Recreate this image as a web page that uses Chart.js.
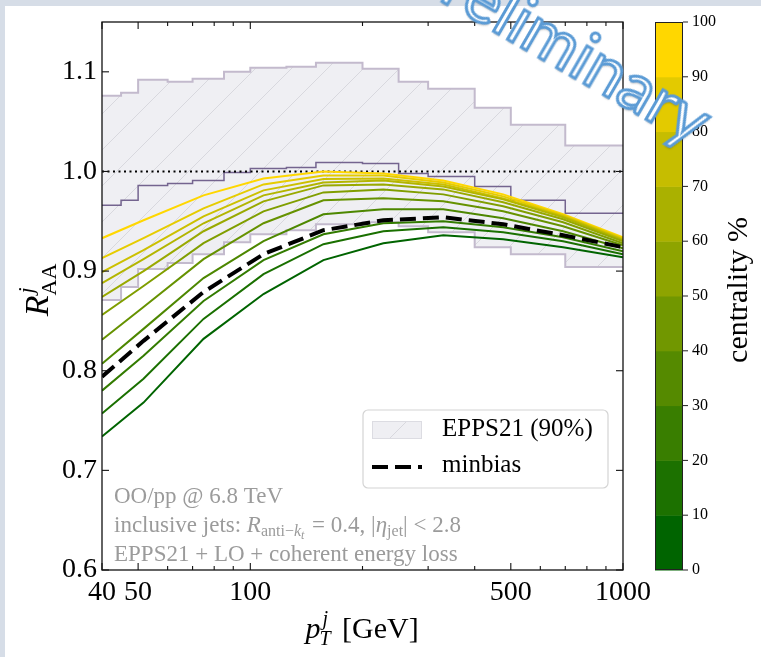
<!DOCTYPE html>
<html>
<head>
<meta charset="utf-8">
<script src="https://cdn.jsdelivr.net/npm/chart.js@4.4.1/dist/chart.umd.min.js"></script>
<style>
  html, body { margin: 0; padding: 0; background: #fff; }
  #wrap { position: relative; width: 761px; height: 657px; overflow: hidden; }
  #plot { display: block; }
  #wm {
    position: absolute; left: 433px; top: -73px;
    font-family: Lato, "Open Sans", sans-serif; font-size: 68px; line-height: 1;
    color: #fff; -webkit-text-stroke: 3px #5b9bd5;
    text-shadow: 1px 2px 2px rgba(0,0,0,0.25);
    transform: rotate(30deg); transform-origin: 0 0; white-space: nowrap;
  }
</style>
</head>
<body>
<div id="wrap">
  <canvas id="plot" width="761" height="657"></canvas>
  <div id="wm">Preliminary</div>
</div>
<script>
// ---- jet pT grid of the calculation (GeV) ----
const ptGrid = [40, 51.7, 74.9, 108.5, 157.1, 227.5, 329.4, 476.9, 690.6, 1000];

// ---- R_AA per centrality class (%) ----
const centralityPct = [0, 10, 20, 30, 40, 50, 60, 70, 80, 90, 100];
const raa_c0   = [0.734, 0.768, 0.832, 0.877, 0.911, 0.928, 0.936, 0.932, 0.924, 0.914];
const raa_c10  = [0.757, 0.792, 0.852, 0.897, 0.927, 0.940, 0.944, 0.939, 0.930, 0.917];
const raa_c20  = [0.780, 0.815, 0.870, 0.911, 0.937, 0.948, 0.950, 0.944, 0.934, 0.920];
const raa_c30  = [0.807, 0.842, 0.893, 0.930, 0.957, 0.962, 0.962, 0.953, 0.940, 0.923];
const raa_c40  = [0.831, 0.864, 0.912, 0.948, 0.971, 0.973, 0.970, 0.960, 0.945, 0.926];
const raa_c50  = [0.856, 0.885, 0.928, 0.960, 0.979, 0.982, 0.977, 0.965, 0.949, 0.928];
const raa_c60  = [0.874, 0.900, 0.940, 0.970, 0.986, 0.987, 0.982, 0.969, 0.952, 0.930];
const raa_c70  = [0.888, 0.912, 0.948, 0.976, 0.989, 0.991, 0.985, 0.972, 0.954, 0.931];
const raa_c80  = [0.899, 0.921, 0.955, 0.981, 0.9925, 0.993, 0.987, 0.973, 0.955, 0.932];
const raa_c90  = [0.913, 0.933, 0.963, 0.987, 0.996, 0.996, 0.989, 0.975, 0.956, 0.933];
const raa_c100 = [0.933, 0.951, 0.976, 0.993, 1.000, 0.998, 0.991, 0.977, 0.957, 0.934];
const raaByCentrality = [raa_c0, raa_c10, raa_c20, raa_c30, raa_c40, raa_c50,
                         raa_c60, raa_c70, raa_c80, raa_c90, raa_c100];
const raaMinbias = [0.794, 0.830, 0.879, 0.917, 0.941, 0.951, 0.954, 0.947, 0.936, 0.924];

// ---- EPPS21 nPDF uncertainty (90% CL), histogram in pT bins ----
const eppsEdges   = [40, 45, 50, 60, 70, 85, 100, 125, 150, 200, 250, 300, 400, 500, 700, 1000];
const eppsUpper   = [1.076, 1.079, 1.092, 1.090, 1.093, 1.100, 1.104, 1.105, 1.109, 1.103, 1.090, 1.083, 1.064, 1.047, 1.026];
const eppsCentral = [0.966, 0.971, 0.986, 0.988, 0.991, 0.999, 1.003, 1.004, 1.009, 1.008, 0.998, 0.995, 0.985, 0.971, 0.958];
const eppsLower   = [0.871, 0.884, 0.902, 0.908, 0.917, 0.929, 0.937, 0.941, 0.947, 0.949, 0.945, 0.939, 0.924, 0.917, 0.904];

// ---- axes ----
const xMajorTicks = [40, 50, 100, 500, 1000];
const xMinorTicks = [60, 70, 80, 90, 200, 300, 400, 600, 700, 800, 900];
const yTicks = [0.6, 0.7, 0.8, 0.9, 1.0, 1.1];
const cbarTicks = [0, 10, 20, 30, 40, 50, 60, 70, 80, 90, 100];
const cbarBands = [0, 10, 20, 30, 40, 50, 60, 70, 80, 90];

const SERIF = '"Liberation Serif", "DejaVu Serif", serif';
const DARKGREEN = [0, 100, 0], GOLD = [255, 215, 0];
function mix(t) {
  const c = DARKGREEN.map((v, i) => Math.round(v + (GOLD[i] - v) * t));
  return `rgb(${c[0]},${c[1]},${c[2]})`;
}

function makeHatch() {
  const s = 36, c = document.createElement('canvas');
  c.width = s; c.height = s;
  const g = c.getContext('2d');
  g.fillStyle = '#efeff3'; g.fillRect(0, 0, s, s);
  g.strokeStyle = '#d8d8de'; g.lineWidth = 1;
  g.beginPath();
  g.moveTo(-2, s + 2); g.lineTo(s + 2, -2);
  g.moveTo(-2, 2); g.lineTo(2, -2);
  g.moveTo(s - 2, s + 2); g.lineTo(s + 2, s - 2);
  g.stroke();
  return g.createPattern(c, 'repeat');
}
const hatch = makeHatch();

const stepData = vals => eppsEdges.map((x, i) => ({ x, y: vals[Math.min(i, vals.length - 1)] }));
const curveData = vals => ptGrid.map((x, i) => ({ x, y: vals[i] }));

const EDGE = '#c3bacd', MID = '#74648f';
const datasets = [
  { label: 'EPPS21 upper', data: stepData(eppsUpper), stepped: true, borderColor: EDGE, borderWidth: 2,
    backgroundColor: hatch, fill: { target: 1 }, order: 20 },
  { label: 'EPPS21 lower', data: stepData(eppsLower), stepped: true, borderColor: EDGE, borderWidth: 2,
    fill: false, order: 19 },
  { label: 'EPPS21 central', data: stepData(eppsCentral), stepped: true, borderColor: MID, borderWidth: 1.5,
    fill: false, order: 18 },
  { label: 'unity', data: [{ x: 40, y: 1 }, { x: 1000, y: 1 }], borderColor: '#000', borderWidth: 2,
    borderDash: [2, 3.5], fill: false, order: 17 }
];
centralityPct.forEach((c, i) => {
  datasets.push({ label: c + '%', data: curveData(raaByCentrality[i]), borderColor: mix(c / 100),
    borderWidth: 2, fill: false, order: 2 + i });
});
datasets.push({ label: 'minbias', data: curveData(raaMinbias), borderColor: '#000', borderWidth: 4,
  borderDash: [16, 7], fill: false, order: 0 });

// page background and white panel
const backdrop = {
  id: 'backdrop',
  beforeDraw(chart) {
    const { ctx, width, height } = chart;
    ctx.save();
    ctx.fillStyle = '#d6dde7'; ctx.fillRect(0, 0, width, height);
    ctx.fillStyle = '#ffffff'; ctx.fillRect(5, 6, width - 5, height - 6);
    ctx.restore();
  }
};

// frame and inward ticks on all four sides
const frameTicks = {
  id: 'frameTicks',
  afterDatasetsDraw(chart) {
    const { ctx, chartArea: a, scales: { x, y } } = chart;
    ctx.save();
    ctx.strokeStyle = '#111'; ctx.lineWidth = 1.3;
    ctx.strokeRect(a.left, a.top, a.right - a.left, a.bottom - a.top);
    ctx.lineWidth = 1.1;
    const seg = (x1, y1, x2, y2) => { ctx.beginPath(); ctx.moveTo(x1, y1); ctx.lineTo(x2, y2); ctx.stroke(); };
    xMajorTicks.forEach(v => { const p = x.getPixelForValue(v); seg(p, a.bottom, p, a.bottom - 7); seg(p, a.top, p, a.top + 7); });
    xMinorTicks.forEach(v => { const p = x.getPixelForValue(v); seg(p, a.bottom, p, a.bottom - 4); seg(p, a.top, p, a.top + 4); });
    yTicks.forEach(v => { const p = y.getPixelForValue(v); seg(a.left, p, a.left + 7, p); seg(a.right, p, a.right - 7, p); });
    ctx.restore();
  }
};

function runs(ctx, x, y, parts) {
  let cx = x;
  parts.forEach(p => {
    ctx.font = p.f;
    ctx.fillText(p.t, cx, y + (p.dy || 0));
    cx += ctx.measureText(p.t).width + (p.sp || 0);
  });
  return cx;
}

// annotations, axis titles, legend and colour bar
const decorations = {
  id: 'decorations',
  afterDraw(chart) {
    const { ctx, chartArea: a } = chart;
    ctx.save();
    ctx.textBaseline = 'alphabetic';
    ctx.textAlign = 'left';

    // text block
    ctx.fillStyle = '#9b9b9b';
    const n23 = `23px ${SERIF}`, i23 = `italic 23px ${SERIF}`, n16 = `16px ${SERIF}`, i12 = `italic 12px ${SERIF}`;
    runs(ctx, 114, 503, [{ t: 'OO/pp @ 6.8 TeV', f: n23 }]);
    runs(ctx, 114, 532, [
      { t: 'inclusive jets: ', f: n23 }, { t: 'R', f: i23 }, { t: 'anti\u2212', f: n16, dy: 4 },
      { t: 'k', f: `italic 16px ${SERIF}`, dy: 4 }, { t: 't', f: i12, dy: 7, sp: 2 },
      { t: ' = 0.4, |', f: n23 }, { t: '\u03b7', f: i23 }, { t: 'jet', f: n16, dy: 4 }, { t: '| < 2.8', f: n23 }
    ]);
    runs(ctx, 114, 561, [{ t: 'EPPS21 + LO + coherent energy loss', f: n23 }]);

    // x title
    ctx.fillStyle = '#000';
    const i30 = `italic 30px ${SERIF}`, n30 = `30px ${SERIF}`, i20 = `italic 20px ${SERIF}`;
    ctx.font = i30; const wp = ctx.measureText('p').width;
    ctx.font = i20; const ws = Math.max(ctx.measureText('j').width, ctx.measureText('T').width) + 3;
    ctx.font = n30; const wg = ctx.measureText(' [GeV]').width;
    const x0 = 362 - (wp + ws + wg) / 2;
    const xb = 638;
    ctx.font = i30; ctx.fillText('p', x0, xb);
    ctx.font = i20; ctx.fillText('j', x0 + wp + 2, xb - 13); ctx.fillText('T', x0 + wp - 1, xb + 7);
    ctx.font = n30; ctx.fillText(' [GeV]', x0 + wp + ws, xb);

    // y title
    ctx.save();
    ctx.translate(48, 289); ctx.rotate(-Math.PI / 2);
    const i34 = `italic 34px ${SERIF}`, n22 = `22px ${SERIF}`, i22 = `italic 22px ${SERIF}`;
    ctx.font = i34; const wR = ctx.measureText('R').width;
    ctx.font = n22; const wAA = ctx.measureText('AA').width;
    const y0 = -(wR + wAA + 2) / 2;
    ctx.font = i34; ctx.fillText('R', y0, 0);
    ctx.font = i22; ctx.fillText('j', y0 + wR + 2, -15);
    ctx.font = n22; ctx.fillText('AA', y0 + wR, 8);
    ctx.restore();

    // legend
    const lx = 363, ly = 410, lw = 245, lh = 78;
    ctx.beginPath(); ctx.roundRect(lx, ly, lw, lh, 5);
    ctx.fillStyle = 'rgba(255,255,255,0.85)'; ctx.fill();
    ctx.strokeStyle = '#d4d4d4'; ctx.lineWidth = 1.2; ctx.stroke();
    ctx.fillStyle = hatch; ctx.fillRect(372, 421, 50, 18);
    ctx.strokeStyle = '#dcdce2'; ctx.lineWidth = 1; ctx.strokeRect(372.5, 421.5, 49, 17);
    ctx.strokeStyle = '#000'; ctx.lineWidth = 4; ctx.setLineDash([16, 7]);
    ctx.beginPath(); ctx.moveTo(372, 467); ctx.lineTo(422, 467); ctx.stroke();
    ctx.setLineDash([]);
    ctx.fillStyle = '#000'; ctx.font = `25px ${SERIF}`;
    ctx.fillText('EPPS21 (90%)', 442, 436);
    ctx.fillText('minbias', 442, 472);

    // colour bar
    const cl = 655, cr = 683;
    const cy = v => a.bottom - (v / 100) * (a.bottom - a.top);
    cbarBands.forEach((b, i) => {
      ctx.fillStyle = mix(i / (cbarBands.length - 1));
      ctx.fillRect(cl, cy(b + 10), cr - cl, cy(b) - cy(b + 10) + 0.5);
    });
    ctx.strokeStyle = '#222'; ctx.lineWidth = 1;
    ctx.strokeRect(cl + 0.5, a.top + 0.5, cr - cl - 1, a.bottom - a.top - 1);
    ctx.font = `16px ${SERIF}`; ctx.fillStyle = '#000'; ctx.textBaseline = 'middle';
    cbarTicks.forEach(v => {
      const p = cy(v);
      ctx.beginPath(); ctx.moveTo(cr, p); ctx.lineTo(cr + 5, p); ctx.stroke();
      ctx.fillText(String(v), cr + 9, p);
    });
    ctx.save();
    ctx.translate(747, 290); ctx.rotate(-Math.PI / 2);
    ctx.textAlign = 'center'; ctx.textBaseline = 'alphabetic';
    ctx.font = `30px ${SERIF}`;
    ctx.fillText('centrality %', 0, 0);
    ctx.restore();

    ctx.restore();
  }
};

new Chart(document.getElementById('plot'), {
  type: 'line',
  data: { datasets },
  options: {
    responsive: false,
    animation: false,
    devicePixelRatio: 1,
    layout: { padding: { left: 0, top: 22, right: 138, bottom: 0 } },
    elements: { point: { radius: 0 }, line: { tension: 0, borderCapStyle: 'butt' } },
    plugins: { legend: { display: false }, tooltip: { enabled: false } },
    scales: {
      x: {
        type: 'logarithmic', min: 40, max: 1000,
        afterFit: s => { s.height = 87; },
        afterBuildTicks: s => { s.ticks = xMajorTicks.map(v => ({ value: v })); },
        grid: { display: false, drawTicks: false },
        border: { display: false },
        ticks: { autoSkip: false, maxRotation: 0, padding: 6, color: '#000',
                 font: { family: SERIF, size: 28 }, callback: v => String(v) }
      },
      y: {
        type: 'linear', min: 0.6, max: 1.15,
        afterFit: s => { s.width = 102; },
        afterBuildTicks: s => { s.ticks = yTicks.map(v => ({ value: v })); },
        grid: { display: false, drawTicks: false },
        border: { display: false },
        ticks: { padding: 5, color: '#000', font: { family: SERIF, size: 28 },
                 callback: v => Number(v).toFixed(1) }
      }
    }
  },
  plugins: [backdrop, frameTicks, decorations]
});
</script>
</body>
</html>
